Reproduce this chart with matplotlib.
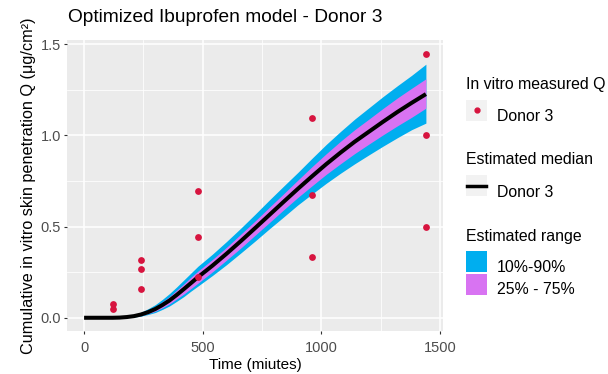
import matplotlib
matplotlib.use("Agg")
import matplotlib.pyplot as plt
from matplotlib.patches import Rectangle
from matplotlib.lines import Line2D

plt.rcParams['font.family'] = ['Liberation Sans', 'DejaVu Sans']

# measured cumulative penetration, donor 3
obs_time = [120, 120, 240, 240, 240, 480, 480, 480, 960, 960, 960, 1440, 1440, 1440]
obs_q = [0.077, 0.046, 0.316, 0.265, 0.155, 0.695, 0.445, 0.223,
         1.093, 0.673, 0.334, 1.445, 1.004, 0.495]

# model prediction (median and percentile bands)
sim_time = [0, 60, 120, 150, 180, 210, 240, 270, 300, 330, 360, 390, 420, 450,
            480, 540, 600, 660, 720, 780, 840, 900, 960, 1020, 1080, 1140,
            1200, 1260, 1320, 1380, 1440]
q_med = [0, 0, 0, 0.001, 0.004, 0.009, 0.018, 0.031, 0.048, 0.07, 0.095, 0.125,
         0.157, 0.19, 0.223, 0.285, 0.351, 0.42, 0.491, 0.563, 0.635, 0.706,
         0.775, 0.842, 0.905, 0.965, 1.02, 1.075, 1.128, 1.178, 1.226]
q10 = [0, 0, 0, 0, 0.002, 0.004, 0.009, 0.018, 0.029, 0.046, 0.065, 0.09,
       0.116, 0.146, 0.174, 0.231, 0.291, 0.355, 0.42, 0.487, 0.552, 0.618,
       0.678, 0.737, 0.792, 0.844, 0.893, 0.941, 0.987, 1.031, 1.067]
q25 = [0, 0, 0, 0.0005, 0.003, 0.006, 0.0126, 0.023, 0.036, 0.055, 0.076, 0.103,
       0.13, 0.16, 0.19, 0.251, 0.316, 0.382, 0.452, 0.521, 0.591, 0.659,
       0.723, 0.786, 0.844, 0.9, 0.952, 1.003, 1.052, 1.099, 1.149]
q75 = [0, 0, 0, 0.0015, 0.006, 0.013, 0.0243, 0.041, 0.061, 0.088, 0.116, 0.151,
       0.185, 0.222, 0.256, 0.319, 0.386, 0.458, 0.53, 0.605, 0.679, 0.754,
       0.828, 0.899, 0.967, 1.031, 1.089, 1.148, 1.205, 1.258, 1.31]
q90 = [0, 0, 0, 0.002, 0.008, 0.016, 0.0306, 0.05, 0.072, 0.101, 0.133, 0.169,
       0.207, 0.245, 0.283, 0.348, 0.418, 0.491, 0.567, 0.645, 0.721, 0.796,
       0.874, 0.95, 1.021, 1.089, 1.151, 1.213, 1.272, 1.329, 1.39]

blue = '#00AEEF'
violet = '#D873F2'
red = '#D7143F'
txt = '#4D4D4D'

fig = plt.figure(figsize=(6.08, 3.74), dpi=100)
ax = fig.add_axes([67 / 608, 1 - 331 / 374, 376 / 608, 291 / 374])
ax.set_facecolor('#EBEBEB')

ax.fill_between(sim_time, q10, q90, color=blue, lw=0)
ax.fill_between(sim_time, q25, q75, color=violet, lw=0)
ax.plot(sim_time, q_med, color='black', lw=2.9, solid_capstyle='butt')
ax.scatter(obs_time, obs_q, s=24, color=red, lw=0, zorder=5)

ax.set_xlim(-72, 1512)
ax.set_ylim(-0.0725, 1.5225)
ax.set_xticks([0, 500, 1000, 1500])
ax.set_yticks([0, 0.5, 1.0, 1.5])
ax.set_yticklabels(['0.0', '0.5', '1.0', '1.5'])
ax.set_xticks([250, 750, 1250], minor=True)
ax.set_yticks([0.25, 0.75, 1.25], minor=True)
ax.grid(which='major', color='white', lw=1.1)
ax.grid(which='minor', color='white', lw=0.55)
ax.set_axisbelow(True)
for s in ax.spines.values():
    s.set_visible(False)
ax.tick_params(which='major', length=2.5, width=0.8, color='#333333',
               labelsize=10.5, labelcolor=txt)
ax.tick_params(axis='x', pad=5)
ax.tick_params(axis='y', pad=2)
ax.tick_params(which='minor', length=0)

ax.set_xlabel('Time (miutes)', fontsize=11, labelpad=2)
ax.set_ylabel('Cumulative in vitro skin penetration Q (μg/cm²)', fontsize=11.7, labelpad=3)
fig.text(68 / 608, 1 - 18 / 374, 'Optimized Ibuprofen model - Donor 3',
         fontsize=13.8, ha='left', va='center')

# legend, drawn in figure pixels
def px(x, y):
    return x / 608, 1 - y / 374

def key_box(y0, h=21, color='#F2F2F2'):
    x0, y1 = px(466, y0 + h)
    fig.add_artist(Rectangle((x0, y1), 21 / 608, h / 374, transform=fig.transFigure,
                             color=color, lw=0))

def label(x, y, s):
    fig.text(*px(x, y), s, fontsize=11.4, ha='left', va='center')

label(466, 85, 'In vitro measured Q')
key_box(100)
fig.add_artist(Line2D([477 / 608], [1 - 110 / 374], marker='o', ms=3.5, color=red,
                      lw=0, transform=fig.transFigure))
label(497, 117, 'Donor 3')

label(466, 160, 'Estimated median')
key_box(175)
fig.add_artist(Line2D([467 / 608, 486 / 608], [1 - 186 / 374] * 2, color='black',
                      lw=2.5, transform=fig.transFigure))
label(497, 192, 'Donor 3')

label(466, 237, 'Estimated range')
key_box(251, color=blue)
key_box(274, color=violet)
label(497, 268, '10%-90%')
label(497, 290, '25% - 75%')

fig.savefig('out.png', dpi=100)
